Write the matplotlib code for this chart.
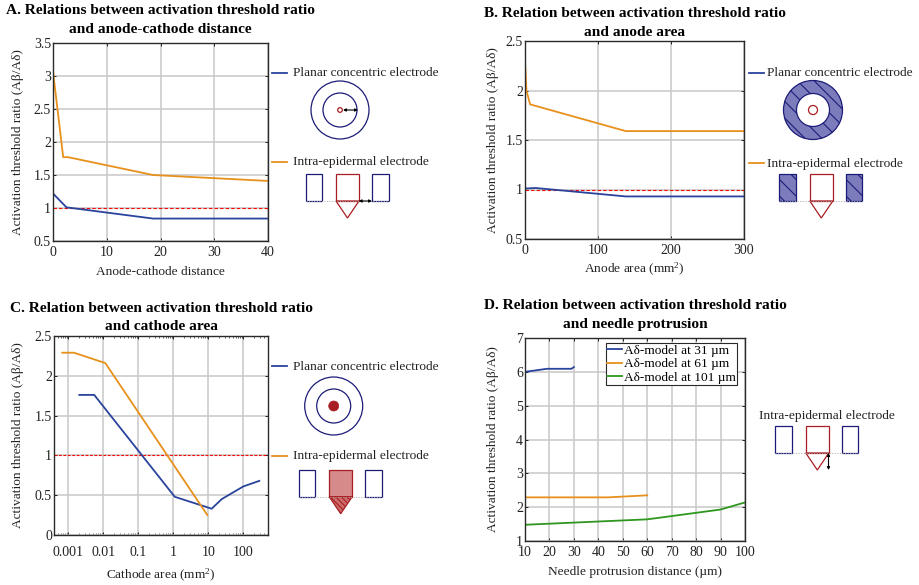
import matplotlib
matplotlib.use('Agg')
import matplotlib.pyplot as plt
from matplotlib.patches import Circle, Rectangle, Polygon, Wedge
from matplotlib.ticker import LogLocator, NullFormatter

plt.rcParams['font.family'] = ['Liberation Serif', 'DejaVu Serif']
plt.rcParams['mathtext.fontset'] = 'custom'
plt.rcParams['mathtext.rm'] = 'Liberation Serif'
plt.rcParams['mathtext.default'] = 'rm'
plt.rcParams['hatch.linewidth'] = 0.8

# panel A
a_x_planar = [0, 2.5, 18.6, 40]
a_y_planar = [1.22, 1.01, 0.84, 0.84]
a_x_intra = [0, 0.1, 1.9, 2.8, 18.6, 40]
a_y_intra = [3.08, 3.0, 1.77, 1.77, 1.5, 1.41]

# panel B
b_x_planar = [0, 15, 138, 300]
b_y_planar = [1.01, 1.015, 0.93, 0.93]
b_x_intra = [0, 2, 7, 138, 300]
b_y_intra = [2.3, 2.0, 1.86, 1.59, 1.59]

# panel C
c_x_planar = [0.00206, 0.0055, 1.1, 12.5, 24, 100, 287]
c_y_planar = [1.76, 1.76, 0.48, 0.33, 0.45, 0.61, 0.68]
c_x_intra = [0.00067, 0.00145, 0.0114, 9.4]
c_y_intra = [2.29, 2.29, 2.16, 0.25]

# panel D
d_x_31 = [10, 19, 29, 30]
d_y_31 = [6.0, 6.09, 6.09, 6.14]
d_x_61 = [10, 44, 60]
d_y_61 = [2.29, 2.29, 2.35]
d_x_101 = [10, 60, 90, 100]
d_y_101 = [1.48, 1.64, 1.93, 2.14]

BLUE = '#2a439c'
ORANGE = '#e8901c'
GREEN = '#2f961f'
NAVY = '#1c1c78'
DARKRED = '#a81e22'
FS = 9.6
TICK_FS = 10
TITLE_FS = 11.1
LW = 1.3
W, H = 919, 585

fig = plt.figure(figsize=(W / 100, H / 100), dpi=100)


def make_axes(left, right, top, bottom, ylabel_off):
    ax = fig.add_axes([left / W, 1 - bottom / H, (right - left) / W, (bottom - top) / H])
    ax.grid(True, color='#c8c8c8', lw=1.1)
    ax.set_axisbelow(True)
    ax.tick_params(which='both', direction='in', top=True, right=True, length=2.5,
                   width=0.7, labelsize=TICK_FS, color='#222222', labelcolor='#222222')
    ax.tick_params(axis='y', pad=1.5)
    ax.tick_params(axis='x', pad=3.5)
    for s in ax.spines.values():
        s.set_color('#2a2a2a')
        s.set_linewidth(1.0)
    ax.set_ylabel('Activation threshold ratio (A\u03b2/A\u03b4)', fontsize=FS, color='#222222')
    ax.yaxis.set_label_coords(-ylabel_off / (right - left), 0.5)
    return ax


def set_title(ax, text, pad):
    ax.set_title(text, fontsize=TITLE_FS, fontweight='bold', pad=pad, linespacing=1.55)


# A
ax = make_axes(53, 268, 43, 241, 29)
ax.axhline(1, color='red', ls='--', lw=0.8, dashes=(3, 2))
ax.plot(a_x_planar, a_y_planar, color=BLUE, lw=LW)
ax.plot(a_x_intra, a_y_intra, color=ORANGE, lw=LW)
ax.set_xlim(0, 40)
ax.set_ylim(0.5, 3.5)
ax.set_xticks([0, 10, 20, 30, 40])
ax.set_yticks([0.5, 1, 1.5, 2, 2.5, 3, 3.5], ['0.5', '1', '1.5', '2', '2.5', '3', '3.5'])
ax.set_xlabel('Anode-cathode distance', fontsize=FS, color='#222222', labelpad=5)
set_title(ax, 'A. Relations between activation threshold ratio\nand anode-cathode distance', 7.5)

# B
ax = make_axes(525, 744, 41, 239, 26)
ax.axhline(1, color='red', ls='--', lw=0.8, dashes=(3, 2))
ax.plot(b_x_planar, b_y_planar, color=BLUE, lw=LW)
ax.plot(b_x_intra, b_y_intra, color=ORANGE, lw=LW)
ax.set_xlim(0, 300)
ax.set_ylim(0.5, 2.5)
ax.set_xticks([0, 100, 200, 300])
ax.set_yticks([0.5, 1, 1.5, 2, 2.5], ['0.5', '1', '1.5', '2', '2.5'])
ax.set_xlabel('Anode area (mm$^{2}$)', fontsize=FS, color='#222222', labelpad=3)
set_title(ax, 'B. Relation between activation threshold ratio\nand anode area', 3.8)

# C
ax = make_axes(54, 268, 336, 535, 30)
ax.axhline(1, color='red', ls='--', lw=0.8, dashes=(2.5, 1.5))
ax.plot(c_x_planar, c_y_planar, color=BLUE, lw=LW)
ax.plot(c_x_intra, c_y_intra, color=ORANGE, lw=LW)
ax.set_xscale('log')
ax.set_xlim(0.00039, 508)
ax.set_ylim(0, 2.5)
ax.set_xticks([0.001, 0.01, 0.1, 1, 10, 100], ['0.001', '0.01', '0.1', '1', '10', '100'])
ax.xaxis.set_minor_locator(LogLocator(base=10, subs=range(2, 10), numticks=50))
ax.xaxis.set_minor_formatter(NullFormatter())
ax.set_yticks([0, 0.5, 1, 1.5, 2, 2.5], ['0', '0.5', '1', '1.5', '2', '2.5'])
ax.tick_params(axis='x', which='major', pad=8)
ax.tick_params(axis='x', which='minor', length=1.5, width=0.5)
ax.set_xlabel('Cathode area (mm$^{2}$)', fontsize=FS, color='#222222', labelpad=6)
set_title(ax, 'C. Relation between activation threshold ratio\nand cathode area', 4.3)

# D
ax = make_axes(525, 745, 338, 541, 26)
ax.plot(d_x_31, d_y_31, color=BLUE, lw=LW, label='A\u03b4-model at 31 \u00b5m')
ax.plot(d_x_61, d_y_61, color=ORANGE, lw=LW, label='A\u03b4-model at 61 \u00b5m')
ax.plot(d_x_101, d_y_101, color=GREEN, lw=LW, label='A\u03b4-model at 101 \u00b5m')
ax.set_xlim(10, 100)
ax.set_ylim(1, 7)
ax.set_xticks(range(10, 101, 10))
ax.set_yticks(range(1, 8))
ax.set_xlabel('Needle protrusion distance (\u00b5m)', fontsize=FS, color='#222222', labelpad=5)
set_title(ax, 'D. Relation between activation threshold ratio\nand needle protrusion', 7.5)
ax.legend(loc='upper left', bbox_to_anchor=((605.7 - 525) / 220, (541 - 343) / 203),
          borderaxespad=0, fancybox=False, framealpha=1, edgecolor='#2a2a2a', fontsize=FS,
          handlelength=1.09, handletextpad=0.15, labelspacing=0.08,
          borderpad=0.12).get_frame().set_linewidth(0.8)

# overlay for legends and electrode sketches, in pixel coordinates
ov = fig.add_axes([0, 0, 1, 1], facecolor='none')
ov.set_xlim(0, W)
ov.set_ylim(H, 0)
ov.axis('off')


def label(x, y, text, color=None, text_off=21):
    if color:
        ov.plot([x, x + 15], [y, y], color=color, lw=LW)
        x += text_off
    ov.text(x, y + 0.5, text, fontsize=FS, va='center', ha='left', color='#222222')


def rings(cx, cy, inner_r=17, outer_r=29):
    ov.add_patch(Circle((cx, cy), outer_r, fc='none', ec=NAVY, lw=0.9))
    ov.add_patch(Circle((cx, cy), inner_r, fc='none', ec=NAVY, lw=0.9))


def arrow(x0, y0, x1, y1):
    ov.annotate('', xy=(x1, y1), xytext=(x0, y0),
                arrowprops=dict(arrowstyle='<|-|>', color='black', lw=0.8, mutation_scale=4,
                                shrinkA=0, shrinkB=0))


def needle(x, y, side_fc='none', side_hatch=None, needle_fc='none', tip_hatch=None):
    ov.plot([x, x + 83], [y + 27, y + 27], color='#aaaaaa', lw=0.7, ls=':')
    for rx in (x, x + 66.5):
        ov.add_patch(Rectangle((rx, y), 16.5, 27, fc=side_fc, ec=NAVY, lw=0.9, hatch=side_hatch))
    ov.add_patch(Rectangle((x + 30.5, y), 23, 27, fc=needle_fc, ec=DARKRED, lw=0.9))
    ov.add_patch(Polygon([(x + 30.5, y + 27), (x + 53.5, y + 27), (x + 42, y + 44)],
                         closed=True, fc='#cc6a6a' if tip_hatch else 'none', ec=DARKRED, lw=0.9,
                         hatch=tip_hatch))


# A sketch
label(272, 73, 'Planar concentric electrode', BLUE)
label(272, 162, 'Intra-epidermal electrode', ORANGE)
rings(340, 110)
ov.add_patch(Circle((340, 110), 2.3, fc='none', ec=DARKRED, lw=0.9))
arrow(343, 110, 358, 110)
needle(305.5, 174)
arrow(358.7, 201, 372, 201)

# B sketch
label(749.3, 73, 'Planar concentric electrode', BLUE, 17.7)
label(749.3, 163, 'Intra-epidermal electrode', ORANGE, 17.7)
ov.add_patch(Wedge((813, 110), 29.5, 0, 360, width=13, fc='#7c7cbc', ec=NAVY, lw=0.9, hatch='\\\\'))
ov.add_patch(Circle((813, 110), 4.5, fc='none', ec=DARKRED, lw=0.9))
needle(779.3, 174, side_fc='#7c7cbc', side_hatch='\\\\')

# C sketch
label(272, 366, 'Planar concentric electrode', BLUE)
label(272, 456, 'Intra-epidermal electrode', ORANGE)
rings(333.7, 406)
ov.add_patch(Circle((333.7, 406), 5, fc=DARKRED, ec=DARKRED, lw=0.5))
needle(298.7, 469.7, needle_fc='#d68a8a', tip_hatch='\\\\\\\\\\\\')

# D sketch
label(758.7, 415, 'Intra-epidermal electrode')
needle(775.3, 426)
arrow(828.5, 453, 828.5, 470)

fig.savefig('out.png', dpi=100)
